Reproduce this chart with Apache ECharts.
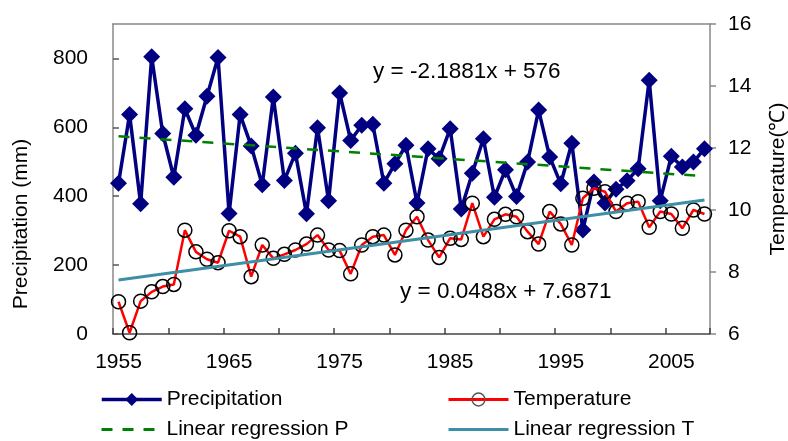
<!DOCTYPE html>
<html lang="en">
<head>
	<meta charset="UTF-8">
	<title>Precipitation and temperature</title>
	<script type="text/javascript" src="https://cdn.jsdelivr.net/npm/echarts@6.0.0/dist/echarts.min.js"></script>
	<style>
		html,body{margin:0;padding:0;background:#fff;}
		#main{width:788px;height:441px;}
	</style>
</head>
<body>
	<div id="main"></div>
	<script type="text/javascript">
	var years=[];
	for(var y=1955;y<=2008;y++){
		years.push(String(y));
	}
	// precipitation (mm), 1955-2008
	var precip=[438,637,378,805,582,455,654,577,690,803,
		350,637,546,433,688,446,525,349,599,387,
		700,562,606,609,438,494,548,380,538,509,
		596,363,467,567,397,477,399,499,650,514,
		436,554,302,441,380,420,445,480,737,387,
		516,485,499,538];
	// temperature (℃), 1955-2008
	var temp=[7.04,6.04,7.06,7.36,7.53,7.60,9.35,8.65,8.41,8.30,
		9.33,9.14,7.85,8.87,8.44,8.57,8.71,8.90,9.19,8.71,
		8.69,7.94,8.87,9.14,9.19,8.55,9.35,9.78,9.03,8.47,
		9.09,9.05,10.22,9.14,9.70,9.86,9.78,9.30,8.90,9.95,
		9.55,8.87,10.38,10.70,10.59,9.95,10.22,10.27,9.44,9.95,
		9.87,9.41,10.00,9.87];
	// regression lines, end points
	var trendP=[['1955',574],['2008',458]];
	var trendT=[['1955',7.74],['2008',10.32]];
	var eqP='y = -2.1881x + 576';
	var eqT='y = 0.0488x + 7.6871';

	var font='Liberation Sans, Arial, sans-serif';
	var fs=21;
	var myChart=echarts.init(document.getElementById('main'));
	var legendText={fontFamily:font,fontSize:fs,color:'#000'};
	option={
		animation:false,
		backgroundColor:'#fff',
		textStyle:{fontFamily:font},
		grid:{
			left:113,right:78,top:24,bottom:107,
			show:false
		},
		legend:[
			{data:['Precipitation'],left:95,top:384,itemWidth:60,itemHeight:16,textStyle:legendText,
				lineStyle:{width:3.5}},
			{data:['Temperature'],left:442,top:384,itemWidth:60,itemHeight:16,textStyle:legendText,
				lineStyle:{width:3},itemStyle:{borderColor:'#555',borderWidth:1.5}},
			{data:['Linear regression P'],left:95,top:414,itemWidth:60,itemHeight:16,textStyle:legendText,
				lineStyle:{width:3},itemStyle:{opacity:0}},
			{data:['Linear regression T'],left:442,top:414,itemWidth:60,itemHeight:16,textStyle:legendText,
				lineStyle:{width:3},itemStyle:{opacity:0}}
		],
		xAxis:[
			{
				type:'category',
				data:years,
				boundaryGap:true,
				axisLine:{show:true,lineStyle:{color:'#444',width:1.5}},
				axisTick:{show:true,inside:true,length:6,alignWithLabel:false,
					interval:4,
					lineStyle:{color:'#444',width:1.5}},
				axisLabel:{interval:9,margin:18,fontSize:fs,color:'#000',fontFamily:font},
				splitLine:{show:false}
			},
			{
				// top frame line
				type:'category',
				data:years,
				position:'top',
				axisLine:{show:true,lineStyle:{color:'#888',width:1.5}},
				axisTick:{show:false},
				axisLabel:{show:false},
				splitLine:{show:false}
			}
		],
		yAxis:[
			{
				type:'value',
				min:0,max:900,interval:200,
				axisLine:{show:true,lineStyle:{color:'#888',width:1.5}},
				axisTick:{show:true,inside:true,length:6,lineStyle:{color:'#555',width:1.5}},
				axisLabel:{margin:25,fontSize:fs,color:'#000',fontFamily:font,showMaxLabel:false,
					formatter:function(v){return v>850?'':v;}},
				splitLine:{show:false}
			},
			{
				type:'value',
				min:6,max:16,interval:2,
				axisLine:{show:true,lineStyle:{color:'#888',width:1.5}},
				axisTick:{show:true,inside:false,length:6,lineStyle:{color:'#888',width:1.5}},
				axisLabel:{margin:18,fontSize:fs,color:'#000',fontFamily:font},
				splitLine:{show:false}
			}
		],
		graphic:[
			{type:'text',x:21,y:224,rotation:Math.PI/2,
				style:{text:'Precipitation (mm)',x:0,y:0,fill:'#000',font:fs+'px '+font,textAlign:'center',textVerticalAlign:'middle'}},
			{type:'text',x:778,y:179,rotation:Math.PI/2,
				style:{text:'Temperature(℃)',x:0,y:0,fill:'#000',font:fs+'px '+font,textAlign:'center',textVerticalAlign:'middle'}},
			{type:'text',x:373,y:72,
				style:{text:eqP,fill:'#000',font:'22.5px '+font,textAlign:'left',textVerticalAlign:'middle'}},
			{type:'text',x:400,y:292,
				style:{text:eqT,fill:'#000',font:'22.5px '+font,textAlign:'left',textVerticalAlign:'middle'}}
		],
		series:[
			{
				name:'Precipitation',
				type:'line',
				yAxisIndex:0,
				data:precip,
				symbol:'diamond',
				symbolSize:17,
				showAllSymbol:true,
				lineStyle:{color:'#000080',width:3.5},
				itemStyle:{color:'#000080'},
				z:2
			},
			{
				name:'Temperature',
				type:'line',
				yAxisIndex:1,
				data:temp,
				symbol:'circle',
				symbolSize:14,
				showAllSymbol:true,
				lineStyle:{color:'#ff0000',width:2.5},
				itemStyle:{color:'rgba(255,255,255,0)',borderColor:'#000',borderWidth:1.5},
				z:3
			},
			{
				name:'Linear regression P',
				type:'line',
				yAxisIndex:0,
				data:trendP,
				symbol:'none',
				lineStyle:{color:'#008000',width:2.5,type:[11,10]},
				itemStyle:{color:'#008000'},
				z:4
			},
			{
				name:'Linear regression T',
				type:'line',
				yAxisIndex:1,
				data:trendT,
				symbol:'none',
				lineStyle:{color:'#3d8fa6',width:3},
				itemStyle:{color:'#3d8fa6'},
				z:4
			}
		]
	};
	if (option && typeof option === "object") {
		myChart.setOption(option);
	}
	</script>
</body>
</html>
